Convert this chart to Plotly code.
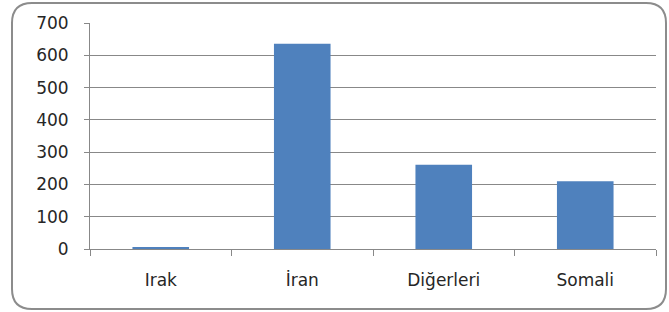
import plotly.graph_objects as go

categories = ["Irak", "İran", "Diğerleri", "Somali"]
values = [6, 636, 261, 210]
y_ticks = [0, 100, 200, 300, 400, 500, 600, 700]

W, H = 669, 312
L, R, T, B = 90, 13, 23, 63
pw, ph = W - L - R, H - T - B

def px(x):
    return (x - L) / pw

def py(y):
    return (H - B - y) / ph

fig = go.Figure(go.Bar(x=categories, y=values, marker_color="#4F81BD",
                       marker_line_width=0, width=0.4))

# rounded frame (window coords)
x0, x1, y0, y1, r = 12, 666, 3, 309, 20
path = (f"M {px(x0+r)} {py(y0)} L {px(x1-r)} {py(y0)} Q {px(x1)} {py(y0)} {px(x1)} {py(y0+r)} "
        f"L {px(x1)} {py(y1-r)} Q {px(x1)} {py(y1)} {px(x1-r)} {py(y1)} "
        f"L {px(x0+r)} {py(y1)} Q {px(x0)} {py(y1)} {px(x0)} {py(y1-r)} "
        f"L {px(x0)} {py(y0+r)} Q {px(x0)} {py(y0)} {px(x0+r)} {py(y0)} Z")
fig.add_shape(type="path", path=path, xref="paper", yref="paper",
              line=dict(color="#8C8C8C", width=2), layer="below")

fig.update_layout(
    width=W, height=H,
    margin=dict(l=L, r=R, t=T, b=B, autoexpand=False),
    plot_bgcolor="white", paper_bgcolor="white",
    showlegend=False,
    font=dict(family="DejaVu Sans", size=17, color="#262626"),
    xaxis=dict(showline=True, linecolor="#888888", linewidth=1,
               ticks="outside", tickson="boundaries", ticklen=6, tickcolor="#888888",
               tickfont=dict(size=17), showgrid=False, ticklabelstandoff=16),
    yaxis=dict(range=[0, 700], tickvals=y_ticks, showline=True, linecolor="#888888",
               linewidth=1, ticks="outside", ticklen=5, tickcolor="#888888",
               gridcolor="#888888", gridwidth=1, zeroline=False,
               tickfont=dict(size=17), ticklabelstandoff=12),
)

fig.write_html("out.html", config={"displayModeBar": False},
               post_script="document.body.style.margin='0';document.body.style.overflow='hidden';")
